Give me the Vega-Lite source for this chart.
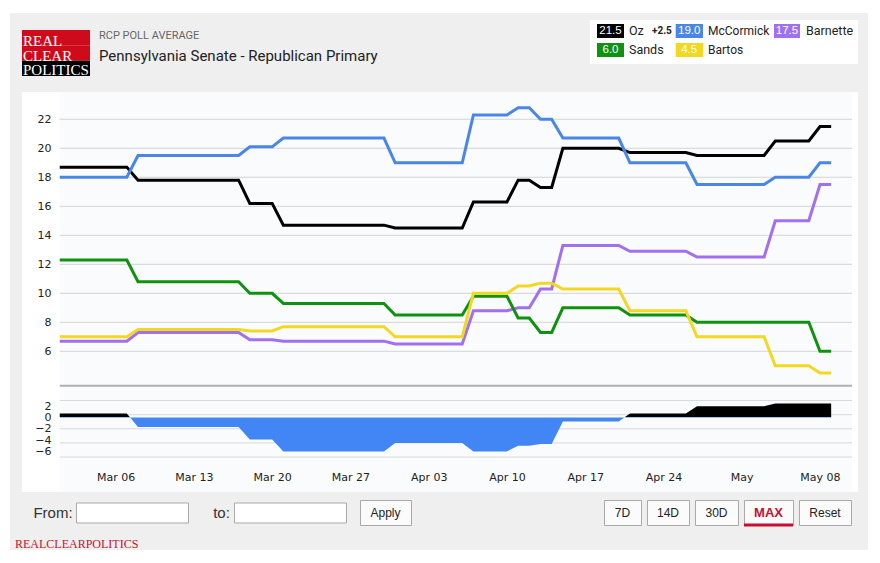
{
  "$schema": "https://vega.github.io/schema/vega-lite/v6.json",
  "padding": 0,
  "background": "#efefef",
  "config": {"view": {"stroke": null}, "font": "DejaVu Sans"},
  "datasets": {
    "polls": [
      {"date": "2022-03-01T00:00", "Oz": 18.7, "McCormick": 18.0, "Barnette": 6.7, "Sands": 12.3, "Bartos": 7.0, "spread": 0.7},
      {"date": "2022-03-02T00:00", "Oz": 18.7, "McCormick": 18.0, "Barnette": 6.7, "Sands": 12.3, "Bartos": 7.0, "spread": 0.7},
      {"date": "2022-03-03T00:00", "Oz": 18.7, "McCormick": 18.0, "Barnette": 6.7, "Sands": 12.3, "Bartos": 7.0, "spread": 0.7},
      {"date": "2022-03-04T00:00", "Oz": 18.7, "McCormick": 18.0, "Barnette": 6.7, "Sands": 12.3, "Bartos": 7.0, "spread": 0.7},
      {"date": "2022-03-05T00:00", "Oz": 18.7, "McCormick": 18.0, "Barnette": 6.7, "Sands": 12.3, "Bartos": 7.0, "spread": 0.7},
      {"date": "2022-03-06T00:00", "Oz": 18.7, "McCormick": 18.0, "Barnette": 6.7, "Sands": 12.3, "Bartos": 7.0, "spread": 0.7},
      {"date": "2022-03-07T00:00", "Oz": 18.7, "McCormick": 18.0, "Barnette": 6.7, "Sands": 12.3, "Bartos": 7.0, "spread": 0.7},
      {"date": "2022-03-08T00:00", "Oz": 17.8, "McCormick": 19.5, "Barnette": 7.3, "Sands": 10.8, "Bartos": 7.5, "spread": -1.7},
      {"date": "2022-03-09T00:00", "Oz": 17.8, "McCormick": 19.5, "Barnette": 7.3, "Sands": 10.8, "Bartos": 7.5, "spread": -1.7},
      {"date": "2022-03-10T00:00", "Oz": 17.8, "McCormick": 19.5, "Barnette": 7.3, "Sands": 10.8, "Bartos": 7.5, "spread": -1.7},
      {"date": "2022-03-11T00:00", "Oz": 17.8, "McCormick": 19.5, "Barnette": 7.3, "Sands": 10.8, "Bartos": 7.5, "spread": -1.7},
      {"date": "2022-03-12T00:00", "Oz": 17.8, "McCormick": 19.5, "Barnette": 7.3, "Sands": 10.8, "Bartos": 7.5, "spread": -1.7},
      {"date": "2022-03-13T00:00", "Oz": 17.8, "McCormick": 19.5, "Barnette": 7.3, "Sands": 10.8, "Bartos": 7.5, "spread": -1.7},
      {"date": "2022-03-14T00:00", "Oz": 17.8, "McCormick": 19.5, "Barnette": 7.3, "Sands": 10.8, "Bartos": 7.5, "spread": -1.7},
      {"date": "2022-03-15T00:00", "Oz": 17.8, "McCormick": 19.5, "Barnette": 7.3, "Sands": 10.8, "Bartos": 7.5, "spread": -1.7},
      {"date": "2022-03-16T00:00", "Oz": 17.8, "McCormick": 19.5, "Barnette": 7.3, "Sands": 10.8, "Bartos": 7.5, "spread": -1.7},
      {"date": "2022-03-17T00:00", "Oz": 17.8, "McCormick": 19.5, "Barnette": 7.3, "Sands": 10.8, "Bartos": 7.5, "spread": -1.7},
      {"date": "2022-03-18T00:00", "Oz": 16.2, "McCormick": 20.1, "Barnette": 6.8, "Sands": 10.0, "Bartos": 7.4, "spread": -3.9},
      {"date": "2022-03-19T00:00", "Oz": 16.2, "McCormick": 20.1, "Barnette": 6.8, "Sands": 10.0, "Bartos": 7.4, "spread": -3.9},
      {"date": "2022-03-20T00:00", "Oz": 16.2, "McCormick": 20.1, "Barnette": 6.8, "Sands": 10.0, "Bartos": 7.4, "spread": -3.9},
      {"date": "2022-03-21T00:00", "Oz": 14.7, "McCormick": 20.7, "Barnette": 6.7, "Sands": 9.3, "Bartos": 7.7, "spread": -6.0},
      {"date": "2022-03-22T00:00", "Oz": 14.7, "McCormick": 20.7, "Barnette": 6.7, "Sands": 9.3, "Bartos": 7.7, "spread": -6.0},
      {"date": "2022-03-23T00:00", "Oz": 14.7, "McCormick": 20.7, "Barnette": 6.7, "Sands": 9.3, "Bartos": 7.7, "spread": -6.0},
      {"date": "2022-03-24T00:00", "Oz": 14.7, "McCormick": 20.7, "Barnette": 6.7, "Sands": 9.3, "Bartos": 7.7, "spread": -6.0},
      {"date": "2022-03-25T00:00", "Oz": 14.7, "McCormick": 20.7, "Barnette": 6.7, "Sands": 9.3, "Bartos": 7.7, "spread": -6.0},
      {"date": "2022-03-26T00:00", "Oz": 14.7, "McCormick": 20.7, "Barnette": 6.7, "Sands": 9.3, "Bartos": 7.7, "spread": -6.0},
      {"date": "2022-03-27T00:00", "Oz": 14.7, "McCormick": 20.7, "Barnette": 6.7, "Sands": 9.3, "Bartos": 7.7, "spread": -6.0},
      {"date": "2022-03-28T00:00", "Oz": 14.7, "McCormick": 20.7, "Barnette": 6.7, "Sands": 9.3, "Bartos": 7.7, "spread": -6.0},
      {"date": "2022-03-29T00:00", "Oz": 14.7, "McCormick": 20.7, "Barnette": 6.7, "Sands": 9.3, "Bartos": 7.7, "spread": -6.0},
      {"date": "2022-03-30T00:00", "Oz": 14.7, "McCormick": 20.7, "Barnette": 6.7, "Sands": 9.3, "Bartos": 7.7, "spread": -6.0},
      {"date": "2022-03-31T00:00", "Oz": 14.5, "McCormick": 19.0, "Barnette": 6.5, "Sands": 8.5, "Bartos": 7.0, "spread": -4.5},
      {"date": "2022-04-01T00:00", "Oz": 14.5, "McCormick": 19.0, "Barnette": 6.5, "Sands": 8.5, "Bartos": 7.0, "spread": -4.5},
      {"date": "2022-04-02T00:00", "Oz": 14.5, "McCormick": 19.0, "Barnette": 6.5, "Sands": 8.5, "Bartos": 7.0, "spread": -4.5},
      {"date": "2022-04-03T00:00", "Oz": 14.5, "McCormick": 19.0, "Barnette": 6.5, "Sands": 8.5, "Bartos": 7.0, "spread": -4.5},
      {"date": "2022-04-04T00:00", "Oz": 14.5, "McCormick": 19.0, "Barnette": 6.5, "Sands": 8.5, "Bartos": 7.0, "spread": -4.5},
      {"date": "2022-04-05T00:00", "Oz": 14.5, "McCormick": 19.0, "Barnette": 6.5, "Sands": 8.5, "Bartos": 7.0, "spread": -4.5},
      {"date": "2022-04-06T00:00", "Oz": 14.5, "McCormick": 19.0, "Barnette": 6.5, "Sands": 8.5, "Bartos": 7.0, "spread": -4.5},
      {"date": "2022-04-07T00:00", "Oz": 16.3, "McCormick": 22.3, "Barnette": 8.8, "Sands": 9.8, "Bartos": 10.0, "spread": -6.0},
      {"date": "2022-04-08T00:00", "Oz": 16.3, "McCormick": 22.3, "Barnette": 8.8, "Sands": 9.8, "Bartos": 10.0, "spread": -6.0},
      {"date": "2022-04-09T00:00", "Oz": 16.3, "McCormick": 22.3, "Barnette": 8.8, "Sands": 9.8, "Bartos": 10.0, "spread": -6.0},
      {"date": "2022-04-10T00:00", "Oz": 16.3, "McCormick": 22.3, "Barnette": 8.8, "Sands": 9.8, "Bartos": 10.0, "spread": -6.0},
      {"date": "2022-04-11T00:00", "Oz": 17.8, "McCormick": 22.8, "Barnette": 9.0, "Sands": 8.3, "Bartos": 10.5, "spread": -5.0},
      {"date": "2022-04-12T00:00", "Oz": 17.8, "McCormick": 22.8, "Barnette": 9.0, "Sands": 8.3, "Bartos": 10.5, "spread": -5.0},
      {"date": "2022-04-13T00:00", "Oz": 17.3, "McCormick": 22.0, "Barnette": 10.3, "Sands": 7.3, "Bartos": 10.7, "spread": -4.7},
      {"date": "2022-04-14T00:00", "Oz": 17.3, "McCormick": 22.0, "Barnette": 10.3, "Sands": 7.3, "Bartos": 10.7, "spread": -4.7},
      {"date": "2022-04-15T00:00", "Oz": 20.0, "McCormick": 20.7, "Barnette": 13.3, "Sands": 9.0, "Bartos": 10.3, "spread": -0.7},
      {"date": "2022-04-16T00:00", "Oz": 20.0, "McCormick": 20.7, "Barnette": 13.3, "Sands": 9.0, "Bartos": 10.3, "spread": -0.7},
      {"date": "2022-04-17T00:00", "Oz": 20.0, "McCormick": 20.7, "Barnette": 13.3, "Sands": 9.0, "Bartos": 10.3, "spread": -0.7},
      {"date": "2022-04-18T00:00", "Oz": 20.0, "McCormick": 20.7, "Barnette": 13.3, "Sands": 9.0, "Bartos": 10.3, "spread": -0.7},
      {"date": "2022-04-19T00:00", "Oz": 20.0, "McCormick": 20.7, "Barnette": 13.3, "Sands": 9.0, "Bartos": 10.3, "spread": -0.7},
      {"date": "2022-04-20T00:00", "Oz": 20.0, "McCormick": 20.7, "Barnette": 13.3, "Sands": 9.0, "Bartos": 10.3, "spread": -0.7},
      {"date": "2022-04-21T00:00", "Oz": 19.7, "McCormick": 19.0, "Barnette": 12.9, "Sands": 8.5, "Bartos": 8.8, "spread": 0.7},
      {"date": "2022-04-22T00:00", "Oz": 19.7, "McCormick": 19.0, "Barnette": 12.9, "Sands": 8.5, "Bartos": 8.8, "spread": 0.7},
      {"date": "2022-04-23T00:00", "Oz": 19.7, "McCormick": 19.0, "Barnette": 12.9, "Sands": 8.5, "Bartos": 8.8, "spread": 0.7},
      {"date": "2022-04-24T00:00", "Oz": 19.7, "McCormick": 19.0, "Barnette": 12.9, "Sands": 8.5, "Bartos": 8.8, "spread": 0.7},
      {"date": "2022-04-25T00:00", "Oz": 19.7, "McCormick": 19.0, "Barnette": 12.9, "Sands": 8.5, "Bartos": 8.8, "spread": 0.7},
      {"date": "2022-04-26T00:00", "Oz": 19.7, "McCormick": 19.0, "Barnette": 12.9, "Sands": 8.5, "Bartos": 8.8, "spread": 0.7},
      {"date": "2022-04-27T00:00", "Oz": 19.5, "McCormick": 17.5, "Barnette": 12.5, "Sands": 8.0, "Bartos": 7.0, "spread": 2.0},
      {"date": "2022-04-28T00:00", "Oz": 19.5, "McCormick": 17.5, "Barnette": 12.5, "Sands": 8.0, "Bartos": 7.0, "spread": 2.0},
      {"date": "2022-04-29T00:00", "Oz": 19.5, "McCormick": 17.5, "Barnette": 12.5, "Sands": 8.0, "Bartos": 7.0, "spread": 2.0},
      {"date": "2022-04-30T00:00", "Oz": 19.5, "McCormick": 17.5, "Barnette": 12.5, "Sands": 8.0, "Bartos": 7.0, "spread": 2.0},
      {"date": "2022-05-01T00:00", "Oz": 19.5, "McCormick": 17.5, "Barnette": 12.5, "Sands": 8.0, "Bartos": 7.0, "spread": 2.0},
      {"date": "2022-05-02T00:00", "Oz": 19.5, "McCormick": 17.5, "Barnette": 12.5, "Sands": 8.0, "Bartos": 7.0, "spread": 2.0},
      {"date": "2022-05-03T00:00", "Oz": 19.5, "McCormick": 17.5, "Barnette": 12.5, "Sands": 8.0, "Bartos": 7.0, "spread": 2.0},
      {"date": "2022-05-04T00:00", "Oz": 20.5, "McCormick": 18.0, "Barnette": 15.0, "Sands": 8.0, "Bartos": 5.0, "spread": 2.5},
      {"date": "2022-05-05T00:00", "Oz": 20.5, "McCormick": 18.0, "Barnette": 15.0, "Sands": 8.0, "Bartos": 5.0, "spread": 2.5},
      {"date": "2022-05-06T00:00", "Oz": 20.5, "McCormick": 18.0, "Barnette": 15.0, "Sands": 8.0, "Bartos": 5.0, "spread": 2.5},
      {"date": "2022-05-07T00:00", "Oz": 20.5, "McCormick": 18.0, "Barnette": 15.0, "Sands": 8.0, "Bartos": 5.0, "spread": 2.5},
      {"date": "2022-05-08T00:00", "Oz": 21.5, "McCormick": 19.0, "Barnette": 17.5, "Sands": 6.0, "Bartos": 4.5, "spread": 2.5},
      {"date": "2022-05-09T00:00", "Oz": 21.5, "McCormick": 19.0, "Barnette": 17.5, "Sands": 6.0, "Bartos": 4.5, "spread": 2.5}
    ],
    "legend": [
      {"name": "Oz", "value": 21.5, "spread": 2.5},
      {"name": "McCormick", "value": 19.0},
      {"name": "Barnette", "value": 17.5},
      {"name": "Sands", "value": 6.0},
      {"name": "Bartos", "value": 4.5}
    ]
  },
  "spacing": 0,
  "vconcat": [
    {"width": 868, "height": 13, "view": {"fill": "white", "stroke": null}, "data": {"values": []}, "mark": "rect"},
    {
      "spacing": 0,
      "bounds": "flush",
      "hconcat": [
        {"width": 10, "height": 537, "view": {"fill": "white", "stroke": null}, "data": {"values": []}, "mark": "rect"},
        {"width": 12, "height": 10, "data": {"values": []}, "mark": "rect"},
        {
          "spacing": 0,
          "title": {"text": "REALCLEARPOLITICS", "orient": "bottom", "anchor": "start", "frame": "group", "dx": -7, "offset": 12, "font": "Liberation Serif", "fontSize": 12, "fontWeight": "normal", "color": "#c8102e"},
          "vconcat": [
            {"width": 836, "height": 7, "data": {"values": []}, "mark": "rect"},
            {
              "spacing": 0,
              "bounds": "flush",
              "hconcat": [
                {
                  "width": 68, "height": 72,
                  "data": {"values": [{"word": "REAL"}, {"word": "CLEAR"}, {"word": "POLITICS"}]},
                  "layer": [
                    {
                      "encoding": {
                        "y": {"field": "word", "type": "nominal", "scale": {"type": "band", "domain": ["REAL", "CLEAR", "POLITICS"], "paddingInner": 0, "paddingOuter": 0.8478, "align": 0.3846}, "axis": null},
                        "x": {"datum": 0, "type": "quantitative", "scale": {"domain": [0, 1]}, "axis": null},
                        "x2": {"datum": 1}
                      },
                      "layer": [
                        {"transform": [{"filter": "datum.word !== 'POLITICS'"}], "mark": {"type": "rect", "color": "#cf0b1b"}},
                        {"transform": [{"filter": "datum.word === 'POLITICS'"}], "mark": {"type": "rect", "color": "#000000"}}
                      ]
                    },
                    {
                      "mark": {"type": "text", "align": "left", "dx": 1, "color": "white", "font": "Liberation Serif", "fontSize": 15},
                      "encoding": {
                        "y": {"field": "word", "type": "nominal", "scale": {"type": "band", "domain": ["REAL", "CLEAR", "POLITICS"], "paddingInner": 0, "paddingOuter": 1.1966, "align": 0.4955}, "axis": null},
                        "x": {"datum": 0, "type": "quantitative", "axis": null},
                        "text": {"field": "word"}
                      }
                    }
                  ],
                  "resolve": {"scale": {"y": "independent"}}
                },
                {
                  "width": 500, "height": 72,
                  "data": {"values": [{"part": "kicker", "text": "RCP POLL AVERAGE"}, {"part": "headline", "text": "Pennsylvania Senate - Republican Primary"}]},
                  "encoding": {
                    "y": {"field": "part", "type": "nominal", "scale": {"type": "band", "domain": ["kicker", "headline"], "paddingInner": 0, "paddingOuter": 0.8, "align": 0.1875}, "axis": null},
                    "x": {"datum": 0, "type": "quantitative", "scale": {"domain": [0, 1]}, "axis": null},
                    "text": {"field": "text"}
                  },
                  "layer": [
                    {"transform": [{"filter": "datum.part === 'kicker'"}], "mark": {"type": "text", "align": "left", "dx": 9, "font": "Roboto", "fontSize": 11, "color": "#666666"}},
                    {"transform": [{"filter": "datum.part === 'headline'"}], "mark": {"type": "text", "align": "left", "dx": 9, "font": "Roboto", "fontSize": 15, "color": "#222222"}}
                  ]
                },
                {
                  "width": 82, "height": 44,
                  "view": {"fill": "white", "stroke": null},
                  "data": {"name": "legend"},
                  "transform": [{"filter": {"field": "name", "oneOf": ["Oz", "Sands"]}}],
                  "encoding": {
                    "y": {"field": "name", "type": "nominal", "scale": {"type": "band", "domain": ["Oz", "Sands"], "paddingInner": 0, "paddingOuter": 0.1579, "align": 0.25}, "axis": null},
                    "x": {"datum": 0, "type": "quantitative", "scale": {"domain": [0, 1]}, "axis": null}
                  },
                  "layer": [
                    {"mark": {"type": "point", "shape": "M1,-1H4.857V1H1Z", "size": 196, "filled": true, "opacity": 1, "strokeWidth": 0},
                     "encoding": {"color": {"field": "name", "type": "nominal", "scale": {"domain": ["Oz", "McCormick", "Barnette", "Sands", "Bartos"], "range": ["#000000", "#4a86e8", "#a070f0", "#0f920f", "#f2d820"]}, "legend": null}}},
                    {"mark": {"type": "text", "dx": 20.5, "align": "center", "color": "white", "font": "Liberation Sans", "fontSize": 11.5},
                     "encoding": {"text": {"field": "value", "type": "quantitative", "format": ".1f"}}},
                    {"mark": {"type": "text", "dx": 39, "align": "left", "color": "#222222", "font": "Roboto", "fontSize": 12.5},
                     "encoding": {"text": {"field": "name"}}},
                    {"transform": [{"filter": {"field": "spread", "valid": true}}],
                     "mark": {"type": "text", "dx": 62, "align": "left", "color": "#222222", "font": "Roboto", "fontSize": 10, "fontWeight": "bold"},
                     "encoding": {"text": {"field": "spread", "type": "quantitative", "format": "+.1f"}}}
                  ]
                },
                {
                  "width": 98, "height": 44,
                  "view": {"fill": "white", "stroke": null},
                  "data": {"name": "legend"},
                  "transform": [{"filter": {"field": "name", "oneOf": ["McCormick", "Bartos"]}}],
                  "encoding": {
                    "y": {"field": "name", "type": "nominal", "scale": {"type": "band", "domain": ["McCormick", "Bartos"], "paddingInner": 0, "paddingOuter": 0.1579, "align": 0.25}, "axis": null},
                    "x": {"datum": 0, "type": "quantitative", "scale": {"domain": [0, 1]}, "axis": null}
                  },
                  "layer": [
                    {"mark": {"type": "point", "shape": "M0.529,-1H4.429V1H0.529Z", "size": 196, "filled": true, "opacity": 1, "strokeWidth": 0},
                     "encoding": {"color": {"field": "name", "type": "nominal", "scale": {"domain": ["Oz", "McCormick", "Barnette", "Sands", "Bartos"], "range": ["#000000", "#4a86e8", "#a070f0", "#0f920f", "#f2d820"]}, "legend": null}}},
                    {"mark": {"type": "text", "dx": 17.2, "align": "center", "color": "white", "font": "Liberation Sans", "fontSize": 11.5},
                     "encoding": {"text": {"field": "value", "type": "quantitative", "format": ".1f"}}},
                    {"mark": {"type": "text", "dx": 36, "align": "left", "color": "#222222", "font": "Roboto", "fontSize": 12},
                     "encoding": {"text": {"field": "name"}}}
                  ]
                },
                {
                  "width": 88, "height": 44,
                  "view": {"fill": "white", "stroke": null},
                  "data": {"name": "legend"},
                  "transform": [{"filter": {"field": "name", "oneOf": ["Barnette"]}}],
                  "encoding": {
                    "y": {"field": "name", "type": "nominal", "scale": {"type": "band", "domain": ["Barnette", "-"], "paddingInner": 0, "paddingOuter": 0.1579, "align": 0.25}, "axis": null},
                    "x": {"datum": 0, "type": "quantitative", "scale": {"domain": [0, 1]}, "axis": null}
                  },
                  "layer": [
                    {"mark": {"type": "point", "shape": "M0.571,-1H4.286V1H0.571Z", "size": 196, "filled": true, "opacity": 1, "strokeWidth": 0},
                     "encoding": {"color": {"field": "name", "type": "nominal", "scale": {"domain": ["Oz", "McCormick", "Barnette", "Sands", "Bartos"], "range": ["#000000", "#4a86e8", "#a070f0", "#0f920f", "#f2d820"]}, "legend": null}}},
                    {"mark": {"type": "text", "dx": 17, "align": "center", "color": "white", "font": "Liberation Sans", "fontSize": 11.5},
                     "encoding": {"text": {"field": "value", "type": "quantitative", "format": ".1f"}}},
                    {"mark": {"type": "text", "dx": 36, "align": "left", "color": "#222222", "font": "Roboto", "fontSize": 12.5},
                     "encoding": {"text": {"field": "name"}}}
                  ]
                }
              ]
            },
            {
              "width": 836, "height": 295,
              "view": {"fill": "white", "stroke": null},
              "resolve": {"axis": {"x": "independent", "y": "independent"}},
              "layer": [
                {
                  "data": {"values": [{}]},
                  "mark": {"type": "rect", "color": "#fafbfd"},
                  "encoding": {
                    "x": {"datum": {"year": 2022, "month": "mar", "date": 1}, "type": "temporal", "scale": {"domain": [{"year": 2022, "month": "feb", "date": 25, "hours": 14, "minutes": 57}, {"year": 2022, "month": "may", "date": 11, "hours": 9, "minutes": 36}], "nice": false}, "axis": null},
                    "x2": {"datum": {"year": 2022, "month": "may", "date": 10, "hours": 21}}
                  }
                },
                {
                  "data": {"values": [{"v": 6}, {"v": 8}, {"v": 10}, {"v": 12}, {"v": 14}, {"v": 16}, {"v": 18}, {"v": 20}, {"v": 22}]},
                  "mark": {"type": "rule", "color": "#d4d4d4", "strokeWidth": 1},
                  "encoding": {
                    "y": {"field": "v", "type": "quantitative", "axis": null},
                    "x": {"datum": {"year": 2022, "month": "mar", "date": 1}, "type": "temporal", "axis": null},
                    "x2": {"datum": {"year": 2022, "month": "may", "date": 10, "hours": 21}}
                  }
                },
                {
                  "data": {"values": [{}]},
                  "mark": {"type": "rule", "color": "#b0b0b0", "strokeWidth": 2},
                  "encoding": {
                    "y": {"datum": 3.62, "type": "quantitative", "axis": null},
                    "x": {"datum": {"year": 2022, "month": "mar", "date": 1}, "type": "temporal", "axis": null},
                    "x2": {"datum": {"year": 2022, "month": "may", "date": 10, "hours": 21}}
                  }
                },
                {
                  "data": {"name": "polls"},
                  "transform": [{"fold": ["Oz", "McCormick", "Barnette", "Sands", "Bartos"], "as": ["candidate", "value"]}],
                  "mark": {"type": "line", "strokeWidth": 3, "interpolate": "linear"},
                  "encoding": {
                    "x": {"field": "date", "type": "temporal", "axis": null},
                    "y": {"field": "value", "type": "quantitative", "scale": {"domain": [3.54, 23.88], "nice": false, "zero": false},
                          "axis": {"values": [6, 8, 10, 12, 14, 16, 18, 20, 22], "offset": -38, "labelPadding": 9, "domain": false, "ticks": false, "grid": false, "title": null, "labelFont": "DejaVu Sans", "labelFontSize": 11, "labelColor": "#222222", "zindex": 1}},
                    "color": {"field": "candidate", "type": "nominal", "scale": {"domain": ["Oz", "McCormick", "Barnette", "Sands", "Bartos"], "range": ["#000000", "#4a86e8", "#a070f0", "#0f920f", "#f2d820"]}, "legend": null}
                  }
                }
              ]
            },
            {
              "width": 836, "height": 105,
              "view": {"fill": "white", "stroke": null},
              "resolve": {"axis": {"x": "independent", "y": "independent"}},
              "layer": [
                {
                  "data": {"values": [{}]},
                  "mark": {"type": "rect", "color": "#fafbfd"},
                  "encoding": {
                    "x": {"datum": {"year": 2022, "month": "mar", "date": 1}, "type": "temporal", "scale": {"domain": [{"year": 2022, "month": "feb", "date": 25, "hours": 14, "minutes": 57}, {"year": 2022, "month": "may", "date": 11, "hours": 9, "minutes": 36}], "nice": false}, "axis": null},
                    "x2": {"datum": {"year": 2022, "month": "may", "date": 10, "hours": 21}}
                  }
                },
                {
                  "data": {"values": [{"v": 3}, {"v": 0.5}, {"v": -2}, {"v": -4.5}, {"v": -7}]},
                  "mark": {"type": "rule", "color": "#d9d9d9", "strokeWidth": 1},
                  "encoding": {
                    "y": {"field": "v", "type": "quantitative", "axis": null},
                    "x": {"datum": {"year": 2022, "month": "mar", "date": 1}, "type": "temporal", "axis": null},
                    "x2": {"datum": {"year": 2022, "month": "may", "date": 10, "hours": 21}}
                  }
                },
                {
                  "data": {"name": "polls"},
                  "mark": {"type": "area", "interpolate": "linear",
                           "fill": {"gradient": "linear", "x1": 0, "y1": 0, "x2": 0, "y2": 1,
                                    "stops": [{"offset": 0, "color": "#000000"}, {"offset": 0.2941, "color": "#000000"}, {"offset": 0.2941, "color": "#4285f4"}, {"offset": 1, "color": "#4285f4"}]}},
                  "encoding": {
                    "x": {"field": "date", "type": "temporal",
                          "axis": {"values": [{"year": 2022, "month": "mar", "date": 6}, {"year": 2022, "month": "mar", "date": 13}, {"year": 2022, "month": "mar", "date": 20}, {"year": 2022, "month": "mar", "date": 27}, {"year": 2022, "month": "apr", "date": 3}, {"year": 2022, "month": "apr", "date": 10}, {"year": 2022, "month": "apr", "date": 17}, {"year": 2022, "month": "apr", "date": 24}, {"year": 2022, "month": "may", "date": 1}, {"year": 2022, "month": "may", "date": 8}],
                                   "labelExpr": "date(datum.value) === 1 ? timeFormat(datum.value, '%b') : timeFormat(datum.value, '%b %d')",
                                   "offset": -24, "labelPadding": 3, "domain": false, "ticks": false, "grid": false, "title": null, "labelFlush": false, "labelOverlap": false,
                                   "labelFont": "DejaVu Sans", "labelFontSize": 11, "labelColor": "#222222", "zindex": 1}},
                    "y": {"field": "spread", "type": "quantitative", "scale": {"domain": [-13.19, 5.4], "nice": false, "zero": false},
                          "axis": {"values": [2, 0, -2, -4, -6], "offset": -38, "labelPadding": 9, "domain": false, "ticks": false, "grid": false, "title": null, "labelFont": "DejaVu Sans", "labelFontSize": 11, "labelColor": "#222222", "zindex": 1}},
                    "y2": {"datum": 0}
                  }
                }
              ]
            },
            {"width": 836, "height": 7, "data": {"values": []}, "mark": "rect"},
            {
              "spacing": 0,
              "center": true,
              "bounds": "flush",
              "hconcat": [
                {"width": 54, "height": 25, "data": {"values": [{"label": "From:"}]}, "mark": {"type": "text", "dx": 4, "font": "Liberation Sans", "fontSize": 15, "color": "#333333"}, "encoding": {"text": {"field": "label"}}},
                {"width": 112, "height": 20, "view": {"fill": "white", "stroke": "#a9a9a9"}, "data": {"values": []}, "mark": "rect"},
                {"width": 46, "height": 25, "data": {"values": [{"label": "to:"}]}, "mark": {"type": "text", "dx": 10.5, "font": "Liberation Sans", "fontSize": 15, "color": "#333333"}, "encoding": {"text": {"field": "label"}}},
                {"width": 112, "height": 20, "view": {"fill": "white", "stroke": "#a9a9a9"}, "data": {"values": []}, "mark": "rect"},
                {"width": 14, "height": 25, "data": {"values": []}, "mark": "rect"},
                {"width": 51, "height": 25, "view": {"fill": "#fbfbfb", "stroke": "#a9a9a9"}, "data": {"values": [{"label": "Apply"}]}, "mark": {"type": "text", "font": "Liberation Sans", "fontSize": 12, "color": "#222222"}, "encoding": {"text": {"field": "label"}}},
                {"width": 193, "height": 25, "data": {"values": []}, "mark": "rect"},
                {"width": 37, "height": 25, "view": {"fill": "#fbfbfb", "stroke": "#a9a9a9"}, "data": {"values": [{"label": "7D"}]}, "mark": {"type": "text", "font": "Liberation Sans", "fontSize": 12, "color": "#222222"}, "encoding": {"text": {"field": "label"}}},
                {"width": 6, "height": 25, "data": {"values": []}, "mark": "rect"},
                {"width": 42, "height": 25, "view": {"fill": "#fbfbfb", "stroke": "#a9a9a9"}, "data": {"values": [{"label": "14D"}]}, "mark": {"type": "text", "font": "Liberation Sans", "fontSize": 12, "color": "#222222"}, "encoding": {"text": {"field": "label"}}},
                {"width": 6, "height": 25, "data": {"values": []}, "mark": "rect"},
                {"width": 43, "height": 25, "view": {"fill": "#fbfbfb", "stroke": "#a9a9a9"}, "data": {"values": [{"label": "30D"}]}, "mark": {"type": "text", "font": "Liberation Sans", "fontSize": 12, "color": "#222222"}, "encoding": {"text": {"field": "label"}}},
                {"width": 6, "height": 25, "data": {"values": []}, "mark": "rect"},
                {
                  "width": 49, "height": 25, "view": {"fill": "#fbfbfb", "stroke": "#a9a9a9"},
                  "data": {"values": [{"label": "MAX"}]},
                  "layer": [
                    {"mark": {"type": "text", "font": "Liberation Sans", "fontSize": 13, "fontWeight": "bold", "color": "#c8102e"}, "encoding": {"text": {"field": "label"}}},
                    {"mark": {"type": "rule", "color": "#c8102e", "strokeWidth": 3}, "encoding": {"y": {"datum": 0, "type": "quantitative", "scale": {"domain": [0, 1]}, "axis": null}}}
                  ]
                },
                {"width": 6, "height": 25, "data": {"values": []}, "mark": "rect"},
                {"width": 52, "height": 25, "view": {"fill": "#fbfbfb", "stroke": "#a9a9a9"}, "data": {"values": [{"label": "Reset"}]}, "mark": {"type": "text", "font": "Liberation Sans", "fontSize": 12, "color": "#222222"}, "encoding": {"text": {"field": "label"}}}
              ]
            }
          ]
        }
      ]
    }
  ]
}
